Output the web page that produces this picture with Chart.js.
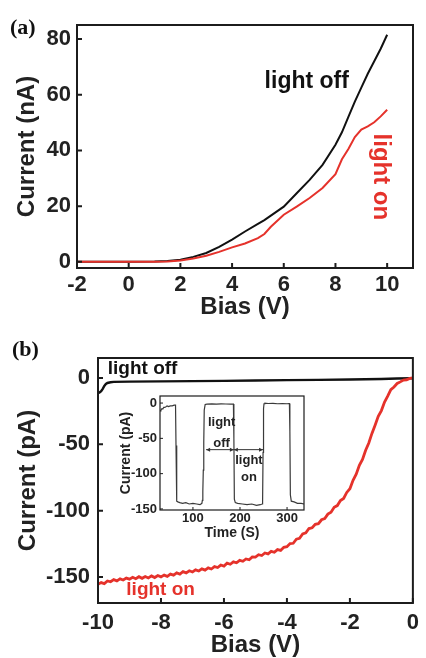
<!DOCTYPE html>
<html><head><meta charset="utf-8">
<script src="https://cdn.jsdelivr.net/npm/chart.js@4.4.1/dist/chart.umd.min.js"></script>
<style>
html,body{margin:0;padding:0;background:#fff;}
#wrap{position:relative;width:426px;height:658px;overflow:hidden;background:#fff;}
canvas{position:absolute;}
.lab{position:absolute;font-family:"Liberation Serif","DejaVu Serif",serif;font-weight:bold;font-size:22px;line-height:22px;color:#111;}
</style></head><body>
<div id="wrap">
<canvas id="ca" width="426" height="330" style="left:0;top:0"></canvas>
<canvas id="cb" width="426" height="340" style="left:0;top:330px"></canvas>
<canvas id="ci" width="212" height="158" style="left:100px;top:384px"></canvas>
<div class="lab" style="left:10px;top:16px">(a)</div>
<div class="lab" style="left:12px;top:338px">(b)</div>
</div>
<script>
// ---------- Panel (a) data ----------
const biasA = [-2,-1,0,1,1.5,2,2.5,3,3.5,4,4.5,5,5.25,5.5,6,6.5,7,7.5,8,8.25,8.5,8.75,9,9.25,9.5,9.75,10];
const lightOffA = [0,0,0,0.1,0.3,0.8,1.8,3.2,5.4,8.0,10.9,13.6,15.0,16.6,19.8,24.6,29.4,34.8,42.0,46.5,52.0,57.5,62.5,67.5,72.0,76.5,81.5];
const lightOnA = [0,0,0,0,0.1,0.5,1.2,2.2,3.6,5.2,6.6,8.5,10.0,12.6,16.9,19.8,22.9,26.5,31.5,36.8,40.5,44.8,47.5,48.6,50.1,52.2,54.6];
const xTicksA = [-2,0,2,4,6,8,10];
const yTicksA = [0,20,40,60,80];

// ---------- Panel (b) data ----------
const biasBoff = [-10,-9.95,-9.9,-9.85,-9.8,-9.75,-9.7,-9.6,-9.5,-9,-8,-7,-6,-5,-4,-3,-2,-1,-0.5,0];
const lightOffB = [-11.5,-11,-10,-8.2,-6,-4.6,-3.8,-3.3,-3.0,-2.8,-2.6,-2.4,-2.2,-2.0,-1.7,-1.5,-1.2,-0.8,-0.5,-0.3];
const biasBon = [-10,-9.9,-9.8,-9.7,-9.6,-9.5,-9.4,-9.3,-9.2,-9.1,
  -9,-8.9,-8.8,-8.7,-8.6,-8.5,-8.4,-8.3,-8.2,-8.1,
  -8,-7.9,-7.8,-7.7,-7.6,-7.5,-7.4,-7.3,-7.2,-7.1,
  -7,-6.9,-6.8,-6.7,-6.6,-6.5,-6.4,-6.3,-6.2,-6.1,
  -6,-5.9,-5.8,-5.7,-5.6,-5.5,-5.4,-5.3,-5.2,-5.1,
  -5,-4.9,-4.8,-4.7,-4.6,-4.5,-4.4,-4.3,-4.2,-4.1,
  -4,-3.9,-3.8,-3.7,-3.6,-3.5,-3.4,-3.3,-3.2,-3.1,
  -3,-2.9,-2.8,-2.7,-2.6,-2.5,-2.4,-2.3,-2.2,-2.1,
  -2,-1.9,-1.8,-1.7,-1.6,-1.5,-1.4,-1.3,-1.2,-1.1,
  -1,-0.9,-0.8,-0.7,-0.6,-0.5,-0.4,-0.3,-0.2,-0.1,0];
const lightOnB = [-155.5,-154.2,-155.0,-153.0,-153.6,-152.0,-152.9,-151.4,-152.3,-150.8,
  -151.6,-150.2,-151.3,-149.8,-151.0,-149.6,-150.7,-149.2,-150.4,-148.9,
  -149.9,-148.6,-149.5,-147.8,-148.6,-146.9,-147.8,-146.0,-146.9,-145.3,
  -146.2,-144.6,-145.5,-143.9,-144.8,-143.1,-144.0,-142.2,-142.9,-141.0,
  -141.8,-139.6,-140.4,-138.6,-139.3,-137.5,-138.2,-136.4,-137.0,-134.9,
  -135.0,-133.2,-133.8,-131.9,-132.6,-130.7,-131.4,-129.4,-130.0,-127.6,
  -127.2,-124.8,-124.6,-121.5,-120.8,-117.6,-116.8,-113.5,-112.9,-110.3,
  -109.8,-106.9,-106.0,-102.6,-101.2,-97.5,-96.2,-92.4,-90.8,-86.3,
  -83.5,-77.2,-72.6,-65.8,-61.4,-54.5,-49.0,-41.8,-35.6,-29.0,
  -24.6,-18.2,-13.8,-8.9,-6.8,-4.2,-3.0,-1.6,-1.4,-0.4,0.0];
const xTicksB = [-10,-8,-6,-4,-2,0];
const yTicksB = [-150,-100,-50,0];

// ---------- Inset data ----------
const insetTime = [30,32,34,36,38,40,42,45,48,52,56,60,63,64,65,66,68,72,78,85,92,100,108,115,119,120,121,122,123,124,126,130,140,150,160,170,180,185,186,187,188,190,195,205,215,225,235,243,247,248,249,250,251,253,260,270,280,290,300,304,305,306,307,309,315,322,330,336];
const insetCurrent = [-11,-10,-8,-8.5,-6,-6,-5.5,-4,-5,-4,-4,-3,-3,-60,-132,-139,-140,-141,-142,-141,-143,-142,-143,-144,-142,-138,-125,-95,-55,-10,-2,-1.5,-1.2,-1.6,-1.2,-1.3,-1.6,-1.4,-1.4,-50,-136,-141,-142,-143,-144,-143,-145,-144,-143,-140,-70,-8,-1,0,-0.6,-0.4,-1,-0.6,-1,-0.8,-0.8,-40,-130,-139,-140,-142,-142,-143];
const insetXTicks = [100,200,300];
const insetYTicks = [0,-50,-100,-150];
const insetArrowTimes = [128,187,249];
const insetArrowLevel = -66;

const SANS = '"Liberation Sans", Arial, Helvetica, sans-serif';
const RED = '#e5322b';
const BLACK = '#111111';
const AXC = '#1c1c1c';

const pts = (xs, ys) => xs.map((x, i) => ({x, y: ys[i]}));
const setTicks = arr => s => { s.ticks = arr.map(v => ({value: v})); };

const deco = {
  id: 'deco',
  beforeDatasetsDraw(chart, args, o) {
    if (!o.fill) return;
    const {ctx, chartArea: a} = chart;
    ctx.save(); ctx.fillStyle = o.fill;
    ctx.fillRect(a.left, a.top, a.right - a.left, a.bottom - a.top);
    ctx.restore();
  },
  afterDatasetsDraw(chart, args, o) {
    const {ctx, chartArea: a, scales: {x, y}} = chart;
    ctx.save();
    ctx.strokeStyle = AXC;
    ctx.lineWidth = o.tickWidth;
    ctx.beginPath();
    x.ticks.forEach(t => { const px = x.getPixelForValue(t.value); ctx.moveTo(px, a.bottom); ctx.lineTo(px, a.bottom - o.tickLen); });
    y.ticks.forEach(t => { const py = y.getPixelForValue(t.value); ctx.moveTo(a.left, py); ctx.lineTo(a.left + o.tickLen, py); });
    ctx.stroke();
    ctx.lineWidth = o.frameWidth;
    ctx.strokeRect(a.left, a.top, a.right - a.left, a.bottom - a.top);
    (o.arrows || []).forEach(ar => {
      const x1 = x.getPixelForValue(ar.x1), x2 = x.getPixelForValue(ar.x2), py = y.getPixelForValue(ar.y);
      ctx.lineWidth = 1; ctx.strokeStyle = '#333'; ctx.fillStyle = '#333';
      ctx.beginPath(); ctx.moveTo(x1, py); ctx.lineTo(x2, py); ctx.stroke();
      [[x1, 1], [x2, -1]].forEach(([px, d]) => {
        ctx.beginPath(); ctx.moveTo(px, py); ctx.lineTo(px + d * 4, py - 2); ctx.lineTo(px + d * 4, py + 2); ctx.closePath(); ctx.fill();
      });
    });
    (o.texts || []).forEach(t => {
      ctx.save();
      ctx.translate(x.getPixelForValue(t.x), y.getPixelForValue(t.y));
      if (t.rot) ctx.rotate(t.rot);
      ctx.font = t.font; ctx.fillStyle = t.color;
      ctx.textAlign = t.align || 'center'; ctx.textBaseline = 'middle';
      ctx.fillText(t.text, 0, 0);
      ctx.restore();
    });
    ctx.restore();
  }
};

function scaleOpts(cfg) {
  return {
    type: 'linear', min: cfg.min, max: cfg.max,
    afterBuildTicks: setTicks(cfg.ticks),
    afterFit: s => { if (cfg.width) s.width = cfg.width; if (cfg.height) s.height = cfg.height; },
    grid: {display: false, drawTicks: false},
    border: {display: false},
    ticks: {font: {family: SANS, size: cfg.tickSize, weight: 'bold'}, color: '#222', padding: cfg.tickPad, autoSkip: false, maxRotation: 0},
    title: {display: true, text: cfg.title, font: {family: SANS, size: cfg.titleSize, weight: 'bold'}, color: '#222', padding: cfg.titlePad}
  };
}

const common = {responsive: false, animation: false, devicePixelRatio: 1, events: []};

new Chart(document.getElementById('ca'), {
  type: 'line',
  data: {datasets: [
    {label: 'light on', data: pts(biasA, lightOnA), borderColor: RED, borderWidth: 2, pointRadius: 0},
    {label: 'light off', data: pts(biasA, lightOffA), borderColor: BLACK, borderWidth: 2, pointRadius: 0}
  ]},
  options: Object.assign({}, common, {
    layout: {padding: {left: 0, top: 25, right: 13, bottom: 0}},
    plugins: {legend: {display: false}, tooltip: {enabled: false},
      deco: {tickLen: 5, tickWidth: 2, frameWidth: 2, texts: [
        {x: 6.89, y: 64.6, text: 'light off', color: BLACK, font: 'bold 23px ' + SANS},
        {x: 9.75, y: 30.5, text: 'light on', color: RED, font: 'bold 24px ' + SANS, rot: Math.PI / 2}
      ]}},
    scales: {
      x: scaleOpts({min: -2, max: 11, ticks: xTicksA, height: 62, tickSize: 22, tickPad: 4, title: 'Bias (V)', titleSize: 24, titlePad: {top: 0, bottom: 8.6}}),
      y: scaleOpts({min: -2.2, max: 85, ticks: yTicksA, width: 77, tickSize: 22, tickPad: 6, title: 'Current (nA)', titleSize: 24, titlePad: {top: 12.6, bottom: 0}})
    }
  }),
  plugins: [deco]
});

new Chart(document.getElementById('cb'), {
  type: 'line',
  data: {datasets: [
    {label: 'light on', data: pts(biasBon, lightOnB), borderColor: RED, borderWidth: 2.8, pointRadius: 0},
    {label: 'light off', data: pts(biasBoff, lightOffB), borderColor: BLACK, borderWidth: 2.4, pointRadius: 0}
  ]},
  options: Object.assign({}, common, {
    layout: {padding: {left: 0, top: 28, right: 7, bottom: 0}},
    plugins: {legend: {display: false}, tooltip: {enabled: false},
      deco: {tickLen: 5, tickWidth: 2, frameWidth: 2, texts: [
        {x: -9.69, y: 6.8, text: 'light off', color: BLACK, font: 'bold 19px ' + SANS, align: 'left'},
        {x: -9.1, y: -159.9, text: 'light on', color: RED, font: 'bold 19px ' + SANS, align: 'left'}
      ]}},
    scales: {
      x: scaleOpts({min: -10, max: 0, ticks: xTicksB, height: 67, tickSize: 22, tickPad: 7, title: 'Bias (V)', titleSize: 24, titlePad: {top: 0, bottom: 10.6}}),
      y: scaleOpts({min: -169.6, max: 15, ticks: yTicksB, width: 98, tickSize: 22, tickPad: 8, title: 'Current (pA)', titleSize: 24, titlePad: {top: 13.6, bottom: 0}})
    }
  }),
  plugins: [deco]
});

new Chart(document.getElementById('ci'), {
  type: 'line',
  data: {datasets: [
    {label: 'current', data: pts(insetTime, insetCurrent), borderColor: '#3a3a3a', borderWidth: 1.2, pointRadius: 0}
  ]},
  options: Object.assign({}, common, {
    layout: {padding: {left: 0, top: 12, right: 8, bottom: 0}},
    plugins: {legend: {display: false}, tooltip: {enabled: false},
      deco: {fill: '#ffffff', tickLen: 3, tickWidth: 1, frameWidth: 1.2,
        arrows: [
          {x1: insetArrowTimes[0], x2: insetArrowTimes[1], y: insetArrowLevel},
          {x1: insetArrowTimes[1], x2: insetArrowTimes[2], y: insetArrowLevel}
        ],
        texts: [
          {x: 161, y: -26.9, text: 'light', color: '#222', font: 'bold 13px ' + SANS},
          {x: 161, y: -56.6, text: 'off', color: '#222', font: 'bold 13px ' + SANS},
          {x: 219, y: -80.7, text: 'light', color: '#222', font: 'bold 13px ' + SANS},
          {x: 219, y: -104.7, text: 'on', color: '#222', font: 'bold 13px ' + SANS}
        ]}},
    scales: {
      x: scaleOpts({min: 30, max: 336, ticks: insetXTicks, height: 32, tickSize: 13, tickPad: 1, title: 'Time (S)', titleSize: 14, titlePad: {top: 0, bottom: 0.6}}),
      y: scaleOpts({min: -151.5, max: 10, ticks: insetYTicks, width: 60, tickSize: 13, tickPad: 3, title: 'Current (pA)', titleSize: 14, titlePad: {top: 17.6, bottom: 0}})
    }
  }),
  plugins: [deco]
});
</script>
</body></html>
